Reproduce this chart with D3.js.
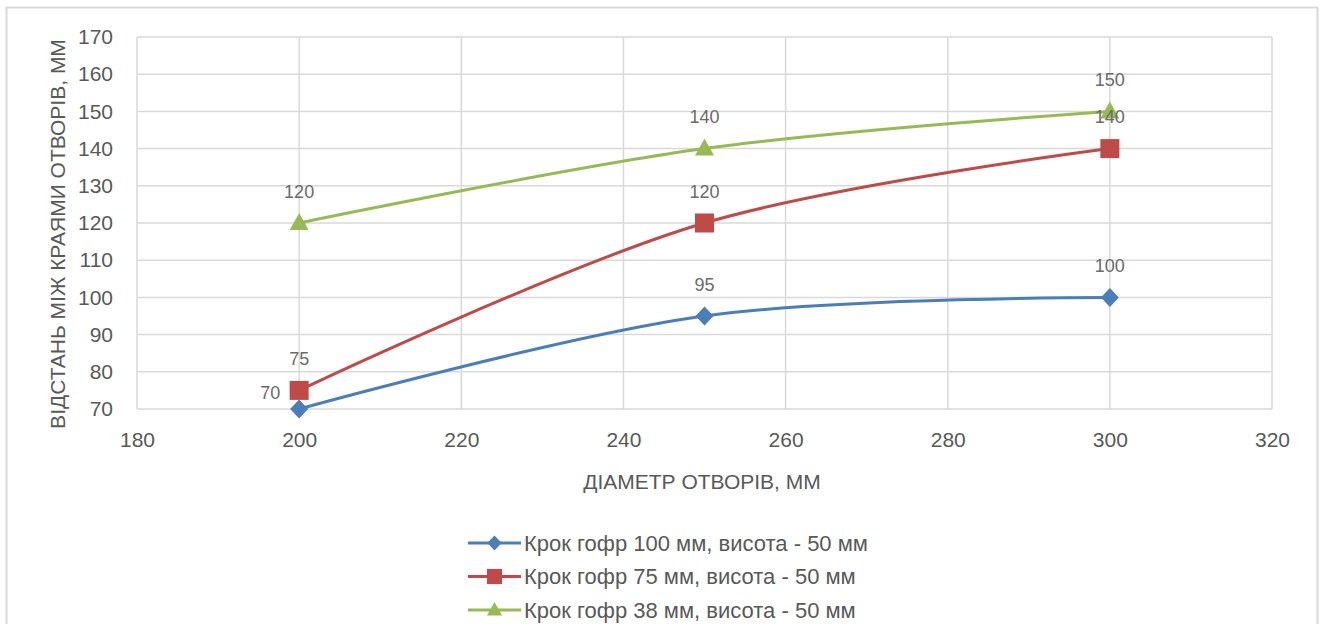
<!DOCTYPE html>
<html><head><meta charset="utf-8">
<script src="https://cdn.jsdelivr.net/npm/d3@7"></script>
<style>body{margin:0;background:#fff;} svg{display:block;font-family:"Liberation Sans",Arial,sans-serif;}</style>
</head><body>
<svg id="c" width="1320" height="624"></svg>
<script>
const xValues = [200, 250, 300];
const series1 = [70, 95, 100];
const series2 = [75, 120, 140];
const series3 = [120, 140, 150];
const seriesNames = ["Крок гофр 100 мм, висота - 50 мм", "Крок гофр 75 мм, висота - 50 мм", "Крок гофр 38 мм, висота - 50 мм"];
const xTicks = [180, 200, 220, 240, 260, 280, 300, 320];
const yTicks = [70, 80, 90, 100, 110, 120, 130, 140, 150, 160, 170];
const xTitle = "ДІАМЕТР ОТВОРІВ, ММ";
const yTitle = "ВІДСТАНЬ МІЖ КРАЯМИ ОТВОРІВ, ММ";

const colors = ["#4A7EBB", "#BE4B48", "#98B954"];
// marker paths (diamond, square, triangle)
const markerPaths = [
  "M0,-9.5L9,0L0,9.5L-9,0Z",
  "M-9.5,-9.5H9.5V9.5H-9.5Z",
  "M0,-10L9.5,7H-9.5Z"
];

const svg = d3.select("#c");
svg.append("rect").attr("x", 6.5).attr("y", 7.5).attr("width", 1311).attr("height", 640)
  .attr("fill", "#fff").attr("stroke", "#d9d9d9").attr("stroke-width", 2);

const L = 137, R = 1272, T = 37, B = 409;
const x = d3.scaleLinear().domain([180, 320]).range([L, R]);
const y = d3.scaleLinear().domain([70, 170]).range([B, T]);

const grid = svg.append("g");
grid.selectAll(".gx").data(xTicks).join("line")
  .attr("x1", d => x(d)).attr("x2", d => x(d)).attr("y1", T).attr("y2", B)
  .attr("stroke", "#d9d9d9").attr("stroke-width", 1.5);
grid.selectAll(".gy").data(yTicks).join("line")
  .attr("x1", L).attr("x2", R).attr("y1", d => y(d)).attr("y2", d => y(d))
  .attr("stroke", "#d9d9d9").attr("stroke-width", 1.5);

const xAxis = svg.append("g").attr("transform", `translate(0,${B})`)
  .call(d3.axisBottom(x).tickValues(xTicks).tickSize(0).tickPadding(23));
const yAxis = svg.append("g").attr("transform", `translate(${L},0)`)
  .call(d3.axisLeft(y).tickValues(yTicks).tickSize(0).tickPadding(24));
[xAxis, yAxis].forEach(a => {
  a.select(".domain").remove();
  a.selectAll("text").attr("fill", "#595959").style("font-size", "21px").style("font-family", "Liberation Sans");
});

svg.append("text").attr("x", 702).attr("y", 489).attr("text-anchor", "middle")
  .attr("fill", "#595959").style("font-size", "21px").text(xTitle);
svg.append("text").attr("transform", `translate(65,234) rotate(-90)`)
  .attr("text-anchor", "middle").attr("fill", "#595959").style("font-size", "21px").text(yTitle);

const allSeries = [series1, series2, series3];
const line = d3.line().x(d => x(d[0])).y(d => y(d[1])).curve(d3.curveCatmullRom.alpha(0.5));

// label offsets: [dx, dy] per point
const labelPos = [
  [[-29, -16], [0, -31], [0, -31]],
  [[0, -31], [0, -31], [0, -32]],
  [[0, -31], [0, -32], [0, -31]]
];

allSeries.forEach((s, i) => {
  const pts = xValues.map((v, j) => [v, s[j]]);
  svg.append("path").datum(pts).attr("d", line).attr("fill", "none")
    .attr("stroke", colors[i]).attr("stroke-width", 3).attr("stroke-linecap", "round");
  svg.selectAll(null).data(pts).join("path")
    .attr("transform", d => `translate(${x(d[0])},${y(d[1])})`)
    .attr("d", markerPaths[i]).attr("fill", colors[i]);
});
allSeries.forEach((s, i) => {
  const pts = xValues.map((v, j) => [v, s[j]]);
  svg.selectAll(null).data(pts).join("text")
    .attr("x", (d, j) => x(d[0]) + labelPos[i][j][0]).attr("y", (d, j) => y(d[1]) + labelPos[i][j][1])
    .attr("text-anchor", "middle").attr("dominant-baseline", "central")
    .attr("fill", "#6b6b6b").style("font-size", "18px").text(d => d[1]);
});

// legend
const lg = svg.append("g");
seriesNames.forEach((n, i) => {
  const yy = 543 + i * 33.5;
  lg.append("line").attr("x1", 468).attr("x2", 521).attr("y1", yy).attr("y2", yy)
    .attr("stroke", colors[i]).attr("stroke-width", 3);
  lg.append("path").attr("transform", `translate(494.5,${yy}) scale(0.8)`)
    .attr("d", markerPaths[i]).attr("fill", colors[i]);
  lg.append("text").attr("x", 524).attr("y", yy).attr("dominant-baseline", "central")
    .attr("fill", "#595959").style("font-size", "22px").text(n);
});
</script>
</body></html>
